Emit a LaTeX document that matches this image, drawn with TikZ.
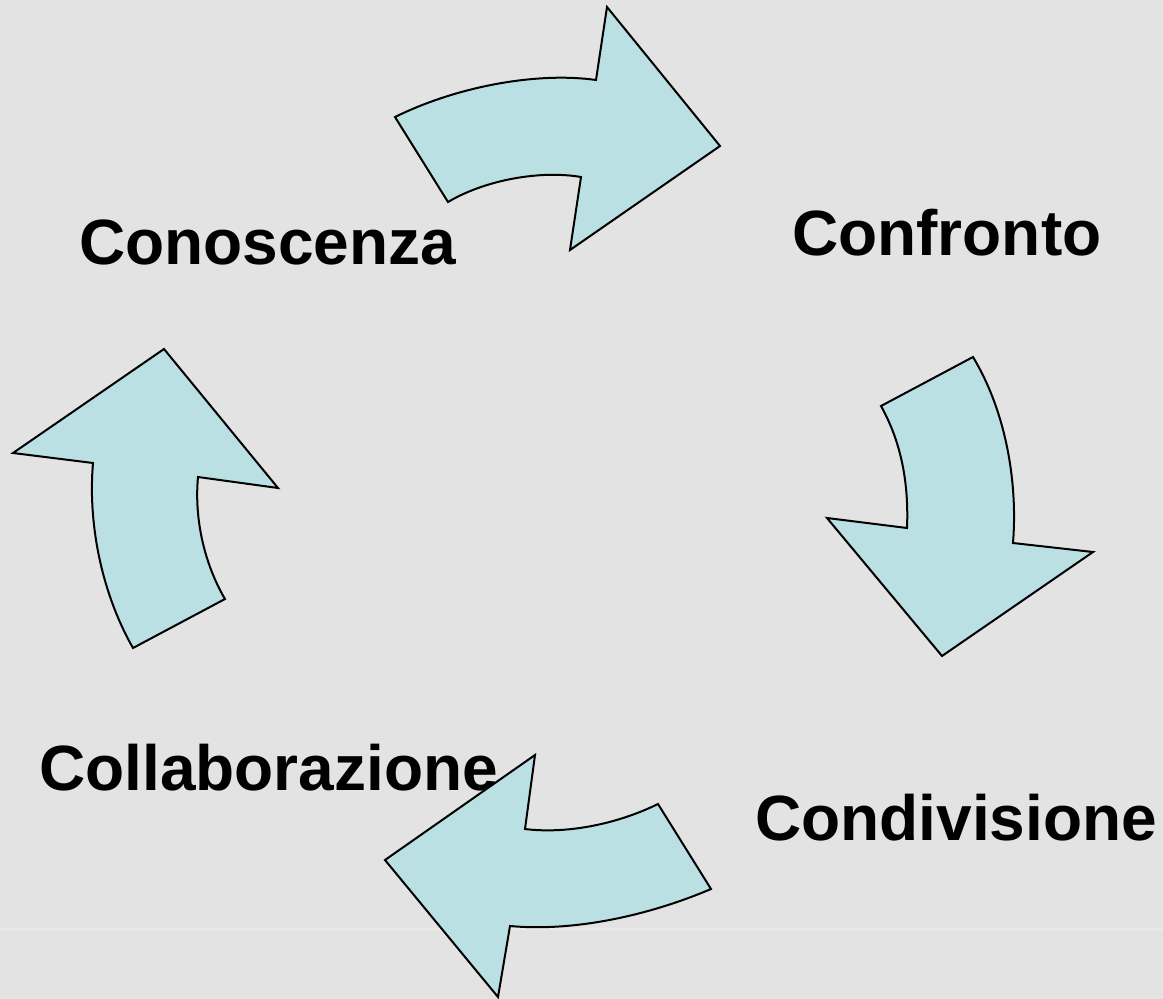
\documentclass[tikz,border=0pt]{standalone}
\usepackage{fontspec}
\setmainfont{Liberation Sans}
\begin{document}
\begin{tikzpicture}[x=1pt,y=-1pt,
  lbl/.style={font=\fontsize{64}{70}\selectfont\bfseries, anchor=base west, inner sep=0pt, text=black},
  cyclearrow/.style={fill=arrowfill, draw=black, line width=2pt, line join=miter}]
\definecolor{bg}{HTML}{E3E3E3}
\definecolor{arrowfill}{HTML}{BAE0E4}
\definecolor{faint}{HTML}{ECE9E2}
\fill[bg] (0,0) rectangle (1163,999);
\useasboundingbox (0,0) rectangle (1163,999);
\draw[faint, line width=1.5pt] (0,929) -- (1163,929);
% labels
\node[lbl] (conoscenza) at (79,264) {Conoscenza};
\node[lbl] (confronto) at (792,255) {Confronto};
\node[lbl] (collaborazione) at (39,790) {Collaborazione};
\node[lbl] (condivisione) at (755,840) {Condivisione};
% top arrow (right)
\draw[cyclearrow] (395,117) .. controls (460,85) and (540,72) .. (596,80)
  -- (607,7) -- (720,146) -- (570,250) -- (581,177)
  .. controls (540,170) and (485,180) .. (448,202) -- cycle;
% right arrow (down)
\draw[cyclearrow] (973,357) -- (881,406) .. controls (900,440) and (909,480) .. (907,528)
  -- (827,518) -- (942,656) -- (1093,552) -- (1013,543)
  .. controls (1018,480) and (1005,410) .. (973,357) -- cycle;
% bottom arrow (left)
\draw[cyclearrow] (535,755) -- (525,829) .. controls (565,834) and (615,825) .. (658,804)
  -- (711,889) .. controls (650,915) and (575,932) .. (510,926)
  -- (498,997) -- (385,860) -- cycle;
% left arrow (up)
\draw[cyclearrow] (164,349) -- (13,453) -- (93,463) .. controls (88,520) and (100,590) .. (133,648)
  -- (225,599) .. controls (205,565) and (194,520) .. (198,477)
  -- (278,488) -- cycle;
\end{tikzpicture}
\end{document}
